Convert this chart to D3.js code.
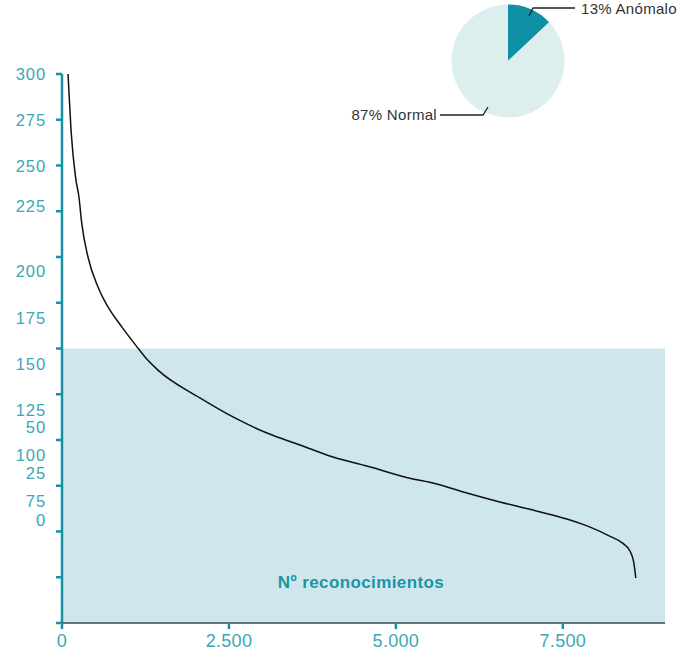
<!DOCTYPE html>
<html><head><meta charset="utf-8">
<script src="https://cdn.jsdelivr.net/npm/d3@7"></script>
<style>body{margin:0;background:#fff}svg{display:block;font-family:"Liberation Sans",Arial,sans-serif}</style>
</head><body>
<svg id="c" width="699" height="659"></svg>
<script>
// ---- data ----
const curveX = [90,135,205,254,295,389,539,689,898,1138,1243,1437,2066,2560,3069,3563,4057,4566,5254,5554,6063,6557,7051,7560,7900,8200,8400,8503,8560,8593];
const curveY = [300,269.4,243,232.8,218.6,200,183.6,172.7,161.7,150.2,145.3,138.2,123,112.6,103.8,97.3,90.7,85.8,78.7,76.5,71,66.1,61.7,56.8,52.5,47.5,43.5,39.5,33.5,24.6];
const yTicks = [0,25,50,75,100,125,150,175,200,225,250,275,300];
const yLabels = ["300","275","250","225","200","175","150","125","50","100","25","75","0"];
const yLabelAt = [300,274.9,249.7,228,192.3,166.7,141.5,116.4,107.1,91.8,82,66.3,56];
const xTicks = [0,2500,5000,7500];
const xTickLabels = ["0","2.500","5.000","7.500"];
const shadeTop = 150;
const pieNames = ["Anómalo","Normal"];
const pieValues = [13,87];
const xTitle = "Nº reconocimientos";

const svg = d3.select("#c");
const x = d3.scaleLinear().domain([0,9030]).range([62,665]);
const y = d3.scaleLinear().domain([0,300]).range([623,74]);
const teal = "#1593a6", labelTeal = "#3aa7b7";

// shaded area
svg.append("rect").attr("x",x(0)).attr("y",y(shadeTop)).attr("width",x(9030)-x(0)).attr("height",y(0)-y(shadeTop)).attr("fill","#cfe7ec");

// y axis
const ya = svg.append("g");
ya.append("line").attr("x1",62).attr("x2",62).attr("y1",y(300)).attr("y2",y(0)).attr("stroke",teal).attr("stroke-width",2.5);
ya.selectAll("line.t").data(yTicks).join("line").attr("class","t")
  .attr("x1",56).attr("x2",62).attr("y1",d=>y(d)).attr("y2",d=>y(d)).attr("stroke",teal).attr("stroke-width",2.5);
ya.selectAll("text").data(yLabels).join("text")
  .attr("x",46).attr("y",(d,i)=>y(yLabelAt[i])).attr("dy","0.35em").attr("text-anchor","end")
  .attr("font-size",16.5).attr("letter-spacing","0.9px").attr("fill",labelTeal).text(d=>d);

// x axis
const xa = svg.append("g");
xa.append("line").attr("x1",x(0)).attr("x2",x(9030)).attr("y1",623).attr("y2",623).attr("stroke","#3b4a50").attr("stroke-width",1.5);
xa.selectAll("line.t").data(xTicks).join("line").attr("class","t")
  .attr("x1",d=>x(d)).attr("x2",d=>x(d)).attr("y1",624).attr("y2",629).attr("stroke",teal).attr("stroke-width",2.5);
xa.selectAll("text").data(xTicks).join("text")
  .attr("x",d=>x(d)).attr("y",641).attr("dy","0.35em").attr("text-anchor","middle")
  .attr("font-size",18).attr("letter-spacing","0.3px").attr("fill",labelTeal).text((d,i)=>xTickLabels[i]);

// curve
const pts = curveX.map((v,i)=>[v,curveY[i]]);
svg.append("path").datum(pts).attr("fill","none").attr("stroke","#111").attr("stroke-width",1.5)
  .attr("d",d3.line().x(d=>x(d[0])).y(d=>y(d[1])).curve(d3.curveMonotoneX));

// title
svg.append("text").attr("x",361).attr("y",582).attr("dy","0.35em").attr("text-anchor","middle")
  .attr("font-size",17).attr("letter-spacing","0.4px").attr("font-weight","bold").attr("fill","#1a94a7").text(xTitle);

// pie
const pg = svg.append("g").attr("transform","translate(508,61)");
const arcs = d3.pie().sort(null)(pieValues);
pg.selectAll("path").data(arcs).join("path")
  .attr("d",d3.arc().innerRadius(0).outerRadius(56.5))
  .attr("fill",(d,i)=>i===0?"#1090a4":"#ddeeef");
// leaders
svg.append("polyline").attr("points","529,16 533,8 575,8").attr("fill","none").attr("stroke","#222").attr("stroke-width",1.3);
svg.append("polyline").attr("points","440,115 483,115 488,107").attr("fill","none").attr("stroke","#222").attr("stroke-width",1.3);
svg.append("text").attr("x",581).attr("y",9).attr("dy","0.35em").attr("font-size",15).attr("letter-spacing","0.3px").attr("fill","#333")
  .text(pieValues[0]+"% "+pieNames[0]);
svg.append("text").attr("x",437).attr("y",115).attr("dy","0.35em").attr("text-anchor","end").attr("font-size",15).attr("letter-spacing","0.3px").attr("fill","#333")
  .text(pieValues[1]+"% "+pieNames[1]);
</script>
</body></html>
